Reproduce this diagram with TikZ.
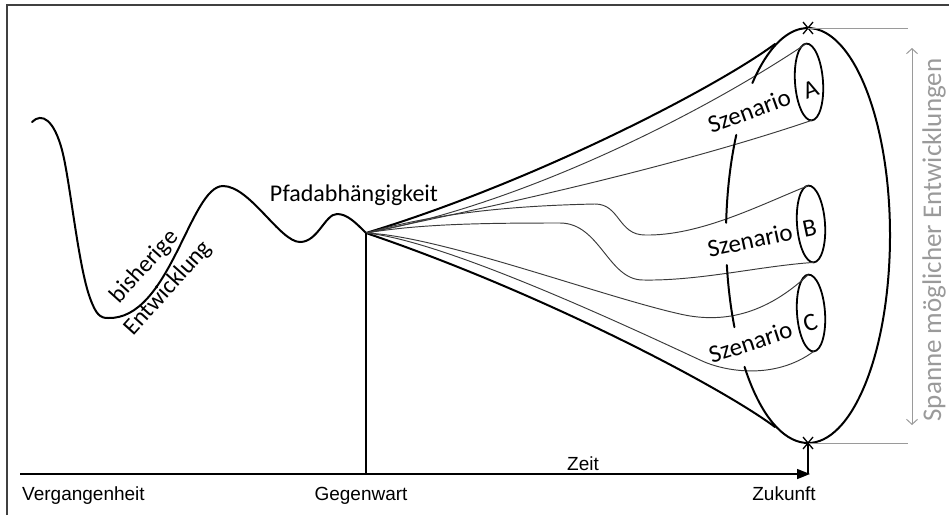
\documentclass[tikz,border=0pt]{standalone}
\usepackage{fontspec}
\setmainfont{Carlito}
\newfontfamily\arialfont{Liberation Sans}
\usetikzlibrary{arrows.meta,shapes.geometric}
\definecolor{spangray}{HTML}{9A9A9A}
\definecolor{thingray}{HTML}{3A3A3A}
\definecolor{framegray}{HTML}{404040}
\tikzset{
  thickpath/.style={line width=2pt, black, line cap=round},
  thinpath/.style={line width=0.95pt, thingray},
  cali/.style={font=\fontsize{24}{29}\selectfont, inner sep=0pt},
  scen/.style={font=\fontsize{25}{30}\selectfont, inner sep=0pt},
  arial/.style={font=\arialfont\fontsize{19}{22}\selectfont, inner sep=0pt},
  xmark/.style={line width=1.3pt, black},
  spanline/.style={spangray, line width=1pt},
  tube/.style={draw, ellipse, line width=1.8pt, inner sep=0pt, outer sep=0pt,
    minimum width=28pt, minimum height=77pt},
  bigarc/.style={thickpath, x radius=82pt, y radius=207.5pt},
}
\begin{document}
\begin{tikzpicture}[x=1pt,y=-1pt]
\useasboundingbox (0,0) rectangle (949,515);

% frame
\draw[framegray, line width=1.5pt] (7,515) -- (7,5) -- (949,5);

% key points
\coordinate (G) at (366,233);
\coordinate (E) at (808,235.5);
\coordinate (Xt) at (808,28);
\coordinate (Xb) at (808,443);
\coordinate (axL) at (20,474);
\coordinate (axR) at (810,474);

% past development
\draw[thickpath] (32,122) .. controls (42,112) and (54,120) .. (62,150)
  .. controls (70,180) and (78,265) .. (90,298)
  .. controls (96,314.5) and (100,318) .. (108,318)
  .. controls (170,320) and (190,186) .. (223,186)
  .. controls (250,186) and (280,242) .. (300,242)
  .. controls (318,242) and (325,214) .. (337,214)
  .. controls (347,214) and (355,222) .. (G);

% scenario ellipses
\node[tube, rotate=4] (eA) at (809,82) {};
\node[tube, rotate=4] (eB) at (811,224) {};
\node[tube, rotate=4] (eC) at (811,313) {};

% funnel of possible developments
\draw[thickpath] (G) .. controls (540,180) and (720,85) .. (775,44);
\draw[thickpath] (G) .. controls (540,292) and (720,386) .. (775,427);

% scenario tubes
\draw[thinpath] (G) .. controls (520,205) and (700,115) .. (eA.north);
\draw[thinpath] (G) .. controls (450,215) and (650,175) .. (eA.south);
\draw[thinpath] (G) .. controls (430,215) and (500,206) .. (595,204)
  .. controls (620,204) and (618,235) .. (645,235)
  .. controls (700,236) and (760,205) .. (eB.north);
\draw[thinpath] (G) .. controls (420,224) and (480,223) .. (560,223)
  .. controls (600,223) and (608,280) .. (643,280)
  .. controls (700,281) and (760,266) .. (eB.south);
\draw[thinpath] (G) .. controls (440,236) and (600,296) .. (680,314)
  .. controls (715,322) and (760,320) .. (eC.north);
\draw[thinpath] (G) .. controls (440,240) and (610,318) .. (700,360)
  .. controls (725,372) and (775,380) .. (eC.south);

% outer ellipse, left side interrupted by the labels
\draw[bigarc] (E) ++(219.3:82pt and 207.5pt) arc[start angle=219.3, end angle=492.7];
\draw[bigarc] (E) ++(151:82pt and 207.5pt) arc[start angle=151, end angle=176.5];
\draw[bigarc] (E) ++(188.2:82pt and 207.5pt) arc[start angle=188.2, end angle=206.2];

% crosses at the extremes
\draw[xmark] (Xt) +(-5,-6) -- +(5,6) (Xt) +(-5,6) -- +(5,-6);
\draw[xmark] (Xb) +(-5,-6) -- +(5,6) (Xb) +(-5,6) -- +(5,-6);

% range indicator
\coordinate (Rt) at (908,28);
\coordinate (Rb) at (908,443);
\coordinate (At) at (912,48);
\coordinate (Ab) at (912,425);
\draw[spanline] (Xt) -- (Rt);
\draw[spanline] (Xb) -- (Rb);
\draw[spanline, {Straight Barb[length=5pt,width=11pt]}-{Straight Barb[length=5pt,width=11pt]}] (At) -- (Ab);
\node[font=\fontsize{27}{32}\selectfont, inner sep=0pt, text=spangray, rotate=90] (span) at (934,240) {Spanne möglicher Entwicklungen};

% time axis
\draw[black, line width=1.4pt, -{Triangle[length=13pt,width=10pt]}] (axL) -- (axR);
\draw[black, line width=1.2pt] (G) -- (G |- axL);
\draw[black, line width=1.4pt] (Xb) -- (Xb |- axL);

% labels
\node[arial, anchor=base west] (verg) at (22,500) {Vergangenheit};
\node[arial, anchor=base] (gegw) at (361,500) {Gegenwart};
\node[arial, anchor=base] (zeit) at (583,470) {Zeit};
\node[arial, anchor=base] (zuk) at (784,500) {Zukunft};

\node[cali, anchor=base] (pfad) at (354,201) {Pfadabhängigkeit};
\node[font=\fontsize{24}{32}\selectfont, inner sep=0pt, align=center, rotate=48] (bish) at (156.5,277.5) {bisherige\\Entwicklung};

\node[scen, rotate=20] (szA) at (763,106) {Szenario\hspace{15pt}A};
\node[scen, rotate=12] (szB) at (762,237.5) {Szenario\hspace{11pt}B};
\node[scen, rotate=18] (szC) at (763,338) {Szenario\hspace{13pt}C};
\end{tikzpicture}
\end{document}
